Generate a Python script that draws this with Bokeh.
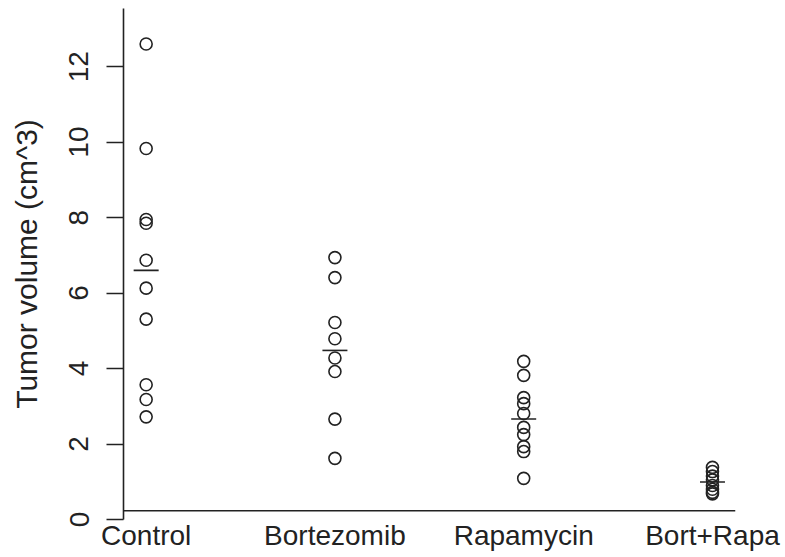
from bokeh.plotting import figure
from bokeh.models import FixedTicker, Span, ColumnDataSource, Range1d
from bokeh.embed import file_html
from bokeh.resources import INLINE

categories = ["Control", "Bortezomib", "Rapamycin", "Bort+Rapa"]
control = [12.6, 9.83, 7.95, 7.85, 6.87, 6.13, 5.31, 3.57, 3.18, 2.72]
bortezomib = [6.94, 6.41, 5.22, 4.79, 4.28, 3.92, 2.66, 1.62]
rapamycin = [4.19, 3.82, 3.23, 3.07, 2.81, 2.44, 2.25, 1.93, 1.80, 1.09]
bort_rapa = [1.38, 1.27, 1.15, 1.05, 0.90, 0.80, 0.72, 0.68]
y_ticks = [0, 2, 4, 6, 8, 10, 12]

groups = [control, bortezomib, rapamycin, bort_rapa]

xs, ys = [], []
for i, g in enumerate(groups):
    xs += [i + 1] * len(g)
    ys += g
pts = ColumnDataSource(dict(x=xs, y=ys))
means = ColumnDataSource(dict(x=[i + 1 for i in range(len(groups))],
                              y=[sum(g) / len(g) for g in groups]))

FONT = "Liberation Sans"
INK = "#222222"

p = figure(width=783, height=553, output_backend="svg", toolbar_location=None,
           x_range=Range1d(0.88, 4.122), y_range=Range1d(0, 13.54),
           min_border_left=123, min_border_right=48, min_border_top=8,
           min_border_bottom=30)
p.outline_line_color = None
p.xgrid.visible = False
p.ygrid.visible = False
p.background_fill_color = "white"

p.scatter("x", "y", source=pts, marker="circle", size=12, fill_color=None,
          line_color=INK, line_width=1.6)
p.scatter("x", "y", source=means, marker="dash", size=25, line_color=INK,
          line_width=1.6)

# x axis
p.xaxis.ticker = FixedTicker(ticks=[1, 2, 3, 4])
p.xaxis.major_label_overrides = {i + 1: c for i, c in enumerate(categories)}
p.xaxis.axis_line_color = None
p.xaxis.major_tick_line_color = None
p.xaxis.major_tick_out = 0
p.xaxis.major_tick_in = 0
p.xaxis.minor_tick_line_color = None
p.xaxis.minor_tick_out = 0
p.xaxis.major_label_standoff = 0
p.xaxis.major_label_text_font = FONT
p.xaxis.major_label_text_font_size = "28px"
p.xaxis.major_label_text_color = INK
p.add_layout(Span(location=0.23, dimension="width", line_color=INK, line_width=1.6))

# y axis
p.yaxis.ticker = FixedTicker(ticks=y_ticks)
p.yaxis.axis_line_color = INK
p.yaxis.axis_line_width = 1.6
p.yaxis.major_tick_line_color = INK
p.yaxis.major_tick_line_width = 1.6
p.yaxis.major_tick_out = 17
p.yaxis.major_tick_in = 0
p.yaxis.minor_tick_line_color = None
p.yaxis.major_label_orientation = "vertical"
p.yaxis.major_label_standoff = 18
p.yaxis.major_label_text_font = FONT
p.yaxis.major_label_text_font_size = "28px"
p.yaxis.major_label_text_color = INK
p.yaxis.axis_label = "Tumor volume (cm^3)"
p.yaxis.axis_label_text_font = FONT
p.yaxis.axis_label_text_font_size = "30px"
p.yaxis.axis_label_text_font_style = "normal"
p.yaxis.axis_label_text_color = INK
p.yaxis.axis_label_standoff = 24

open("out.html", "w").write(file_html(p, INLINE))
